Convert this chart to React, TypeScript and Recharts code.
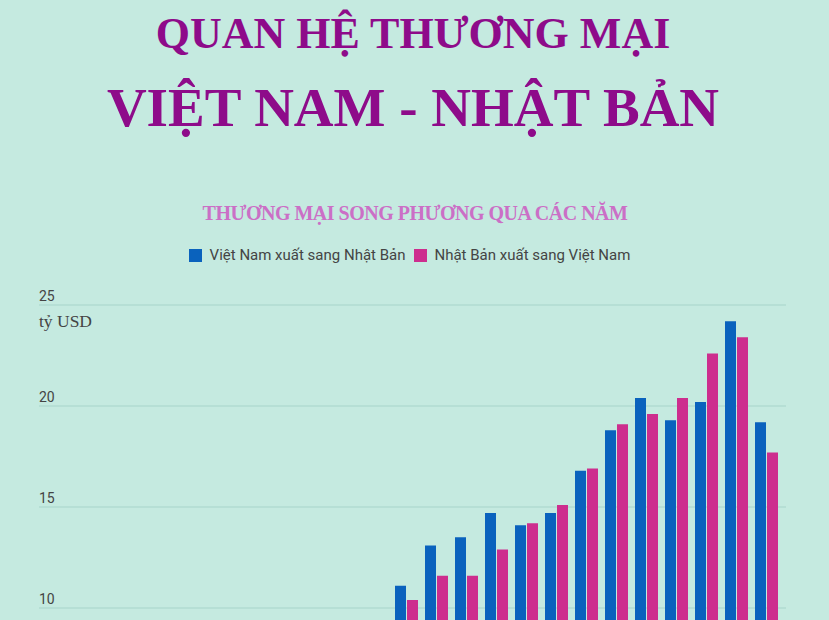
import { BarChart, Bar, XAxis, YAxis, CartesianGrid } from "recharts";

// năm 2000 - 2023 (các năm trước 2011 nằm dưới mép ảnh)
const years = [
  "2000", "2001", "2002", "2003", "2004", "2005", "2006", "2007", "2008", "2009", "2010", "2011",
  "2012", "2013", "2014", "2015", "2016", "2017", "2018", "2019", "2020", "2021", "2022", "2023",
];
const vnToJapan = [
  2.6, 2.5, 2.4, 2.9, 3.5, 4.3, 5.2, 6.1, 8.5, 6.3, 7.7, 11.1,
  13.1, 13.5, 14.7, 14.1, 14.7, 16.8, 18.8, 20.4, 19.3, 20.2, 24.2, 19.2,
];
const japanToVn = [
  2.3, 2.2, 2.5, 3.0, 3.6, 4.1, 4.7, 6.2, 8.2, 7.5, 9.0, 10.4,
  11.6, 11.6, 12.9, 14.2, 15.1, 16.9, 19.1, 19.6, 20.4, 22.6, 23.4, 17.7,
];
// only the ticks that are visible in the picture
const yTicks = [10, 15, 20, 25];
const seriesNames = ["Việt Nam xuất sang Nhật Bản", "Nhật Bản xuất sang Việt Nam"];
const seriesColors = ["#0a62bd", "#cd2e8e"];

const data = years.map((y, i) => ({ year: y, vn: vnToJapan[i], jp: japanToVn[i] }));

if (typeof document !== "undefined") document.body.style.margin = "0";

const BG = "#c5eae0";
const PURPLE = "#8e0b8a";

const renderYTick = (props: { y?: number; payload?: { value: number } }) => (
  <text
    key={props.payload?.value}
    x={39}
    y={(props.y ?? 0) - 4}
    fill="#444"
    fontSize={14}
    fontFamily="Roboto"
    textAnchor="start"
  >
    {props.payload?.value}
  </text>
);

export default function App() {
  return (
    <div style={{ position: "relative", width: 829, height: 900, background: BG, overflow: "hidden" }}>
      <svg width={829} height={240} style={{ position: "absolute", left: 0, top: 0 }}>
        <text x={413} y={48} textAnchor="middle" fill={PURPLE} fontFamily="Liberation Serif" fontWeight={700} fontSize={44}>
          QUAN HỆ THƯƠNG MẠI
        </text>
        <text x={413} y={126} textAnchor="middle" fill={PURPLE} fontFamily="Liberation Serif" fontWeight={700} fontSize={55}>
          VIỆT NAM - NHẬT BẢN
        </text>
        <text x={415} y={220} textAnchor="middle" fill="#cb6fc6" fontFamily="Liberation Serif" fontWeight={700} fontSize={20} letterSpacing={-0.5}>
          THƯƠNG MẠI SONG PHƯƠNG QUA CÁC NĂM
        </text>
      </svg>
      <div
        style={{
          position: "absolute",
          top: 246,
          left: 0,
          width: 829,
          display: "flex",
          justifyContent: "center",
          gap: 8,
          fontFamily: "Roboto",
          fontSize: 15,
          color: "#444",
          paddingRight: 10,
          boxSizing: "border-box",
        }}
      >
        {seriesNames.map((n, i) => (
          <div key={n} style={{ display: "flex", alignItems: "center", gap: 8 }}>
            <span style={{ display: "inline-block", width: 13, height: 13, background: seriesColors[i] }} />
            <span>{n}</span>
          </div>
        ))}
      </div>
      <div style={{ position: "absolute", left: 0, top: 0 }}>
        <BarChart width={829} height={845} data={data} margin={{ top: 305, right: 43, left: 38, bottom: 5 }} barSize={11} barGap={1}>
          <CartesianGrid vertical={false} stroke="#a7d4ca" />
          <XAxis
            dataKey="year"
            axisLine={false}
            tickLine={false}
            padding={{ left: 22, right: 5 }}
            tick={false}
            height={30}
          />
          <YAxis
            domain={[0, 25]}
            ticks={yTicks}
            width={1}
            axisLine={false}
            tickLine={false}
            interval={0}
            tick={renderYTick}
          />
          <Bar dataKey="vn" name={seriesNames[0]} fill={seriesColors[0]} isAnimationActive={false} />
          <Bar dataKey="jp" name={seriesNames[1]} fill={seriesColors[1]} isAnimationActive={false} />
        </BarChart>
      </div>
      <div style={{ position: "absolute", left: 39, top: 311, fontFamily: "Liberation Serif", fontSize: 17.5, color: "#444" }}>
        tỷ USD
      </div>
    </div>
  );
}
